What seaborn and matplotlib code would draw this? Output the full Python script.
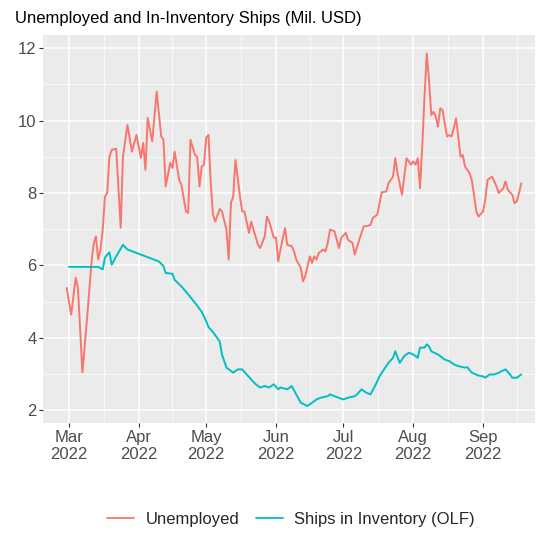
import pandas as pd
import numpy as np
import matplotlib
matplotlib.use("Agg")
import matplotlib.pyplot as plt
import seaborn as sns

# Данные (дни от 1 марта 2022 и значения)
start = pd.Timestamp("2022-03-01")

unemp_day = [-1, 1, 3, 4, 6, 8, 10, 11, 12, 13, 14, 15, 16, 17, 18, 19, 21, 23, 24, 26,
             28, 30, 32, 33, 34, 35, 37, 39, 41, 42, 43, 45, 46, 47, 49, 50, 52, 53, 54, 56,
             57, 58, 59, 60, 61, 62,
             63, 64, 65, 67, 68, 70, 71, 72, 73, 74, 76, 77, 78, 80,
             81, 82, 84, 85, 87, 88, 89, 91, 92, 93, 94, 96, 97, 99, 100, 101, 103, 104, 105, 107,
             108, 109, 110, 111, 113, 114, 115, 116, 118, 119, 120, 121, 123, 124, 126, 127, 129, 131, 132, 134,
             135, 137, 139, 141, 142, 144, 145, 146, 148, 149, 150, 152, 153, 154, 155, 156, 157, 158, 159, 160,
             161, 162, 163, 164, 165,
             166, 167, 168, 169, 170, 171, 172, 173, 174, 175, 176, 178, 179, 180, 181,
             182, 184, 185, 186, 188, 189, 190, 191, 193, 194, 195, 197, 198, 199, 200, 201]
unemp_val = [5.38, 4.64, 5.66, 5.38, 3.05, 4.50, 6.07, 6.60, 6.80, 6.16, 6.43, 6.99, 7.90, 8.00, 9.00, 9.19, 9.22, 7.04, 9.00, 9.88,
             9.14, 9.60, 8.97, 9.38, 8.64, 10.07, 9.42, 10.80, 9.56, 9.47, 8.18, 8.83, 8.69, 9.14, 8.36, 8.22, 7.49, 7.45, 9.47, 9.05,
             9.00, 8.18, 8.73, 8.78, 9.53, 9.60,
             8.28, 7.40, 7.21, 7.56, 7.49, 6.99, 6.16, 7.73, 7.90, 8.91, 7.90, 7.49, 7.49, 6.90,
             7.21, 6.99, 6.57, 6.48, 6.80, 7.35, 7.21, 6.77, 6.77, 6.11, 6.44, 7.03, 6.57, 6.53, 6.39, 6.16, 5.94, 5.56, 5.70, 6.25,
             6.07, 6.25, 6.16, 6.34, 6.44, 6.39, 6.62, 6.99, 6.94, 6.71, 6.48, 6.76, 6.90, 6.71, 6.62, 6.30, 6.71, 7.08, 7.08, 7.12,
             7.31, 7.40, 8.02, 8.04, 8.27, 8.45, 8.96, 8.55, 7.95, 8.45, 8.96, 8.78, 8.87, 8.78, 8.96, 8.13, 9.28, 10.66, 11.85, 11.12,
             10.15, 10.24, 10.11, 9.83, 10.34,
             10.29, 9.93, 9.56, 9.60, 9.56, 9.79, 10.06, 9.56, 9.00, 9.05, 8.73, 8.55, 8.36, 7.95, 7.49,
             7.35, 7.49, 7.81, 8.36, 8.45, 8.32, 8.18, 8.00, 8.13, 8.32, 8.09, 7.95, 7.72, 7.77, 8.00, 8.27]

ships_day = [0, 13, 15, 16, 17, 18, 19, 21, 24, 26, 40, 42, 43, 46, 47, 50, 53, 56, 59, 61,
             62, 64, 67, 68, 70, 73, 75, 77, 79, 81, 83, 85, 87, 89, 91, 93, 94, 97, 99, 101,
             103, 106, 108, 110, 112, 115, 116, 118, 121, 122, 124, 127, 128, 130, 132, 134, 136, 138, 140, 142,
             144, 145, 147, 149, 151, 153, 155, 156, 158, 159, 160, 161, 164, 167, 169, 171, 173, 176, 177, 179,
             182, 184, 185, 187, 189, 191, 194, 196, 197, 199, 201]
ships_val = [5.96, 5.96, 5.89, 6.21, 6.30, 6.36, 6.02, 6.25, 6.57, 6.44, 6.11, 5.98, 5.79, 5.77, 5.60, 5.42, 5.20, 4.97, 4.72, 4.46,
             4.30, 4.16, 3.90, 3.54, 3.18, 3.04, 3.13, 3.13, 2.99, 2.85, 2.72, 2.63, 2.67, 2.63, 2.72, 2.58, 2.63, 2.58, 2.67, 2.44,
             2.21, 2.12, 2.21, 2.30, 2.35, 2.39, 2.44, 2.39, 2.32, 2.30, 2.35, 2.39, 2.44, 2.58, 2.49, 2.44, 2.67, 2.94, 3.13, 3.31,
             3.45, 3.63, 3.31, 3.50, 3.59, 3.54, 3.45, 3.73, 3.73, 3.82, 3.77, 3.63, 3.54, 3.40, 3.36, 3.27, 3.22, 3.18, 3.19, 3.04,
             2.96, 2.94, 2.90, 2.99, 2.99, 3.04, 3.13, 2.99, 2.90, 2.90, 2.99]

series_names = ["Unemployed", "Ships in Inventory (OLF)"]
colors = ["#F8766D", "#00BFC4"]
title = "Unemployed and In-Inventory Ships (Mil. USD)"

df = pd.concat([
    pd.DataFrame({"date": start + pd.to_timedelta(unemp_day, unit="D"), "value": unemp_val, "series": series_names[0]}),
    pd.DataFrame({"date": start + pd.to_timedelta(ships_day, unit="D"), "value": ships_val, "series": series_names[1]}),
])

sns.set_theme(style="darkgrid", rc={
    "axes.facecolor": "#EBEBEB",
    "grid.color": "white",
})
plt.rcParams["font.family"] = ["Liberation Sans", "DejaVu Sans"]

fig = plt.figure(figsize=(5.39, 5.39), dpi=100)
ax = fig.add_axes([0.0807, 0.2152, 0.9119, 0.7198])

sns.lineplot(data=df, x="date", y="value", hue="series", hue_order=series_names,
             palette=colors, linewidth=1.4, ax=ax, legend=False, estimator=None)

# оси (тики сначала, потом пределы - иначе set_xticks расширяет ось)
months = pd.date_range("2022-03-01", "2022-09-01", freq="MS")
ax.set_xticks(months)
ax.set_xticklabels([m.strftime("%b\n%Y") for m in months])
mids = [months[i] + (months[i + 1] - months[i]) / 2 for i in range(len(months) - 1)]
mids = mids + [months[-1] + pd.Timedelta(days=15)]
ax.set_xticks(mids, minor=True)
ax.set_yticks([2, 4, 6, 8, 10, 12])
ax.set_yticks([3, 5, 7, 9, 11], minor=True)
ax.set_xlim(start + pd.Timedelta(days=-11.3), start + pd.Timedelta(days=207.1))
ax.set_ylim(1.65, 12.36)

ax.grid(which="major", color="white", linewidth=1.1)
ax.grid(which="minor", color="white", linewidth=0.5)
ax.tick_params(which="major", length=3, width=0.8, color="#333333", labelsize=12,
               labelcolor="#4D4D4D", pad=2, bottom=True, left=True)
ax.tick_params(which="minor", length=0)
for s in ax.spines.values():
    s.set_visible(False)
ax.set_xlabel("")
ax.set_ylabel("")
ax.set_title(title, loc="left", fontsize=12, color="black", x=-0.058, pad=9)

# легенда
handles = [plt.Line2D([], [], color=c, linewidth=1.3) for c in colors]
fig.legend(handles, series_names, loc="lower center", ncol=2, frameon=False,
           fontsize=12, handlelength=1.6, columnspacing=1.0, handletextpad=0.7,
           bbox_to_anchor=(0.54, -0.005))

fig.savefig("out.png", dpi=100)
